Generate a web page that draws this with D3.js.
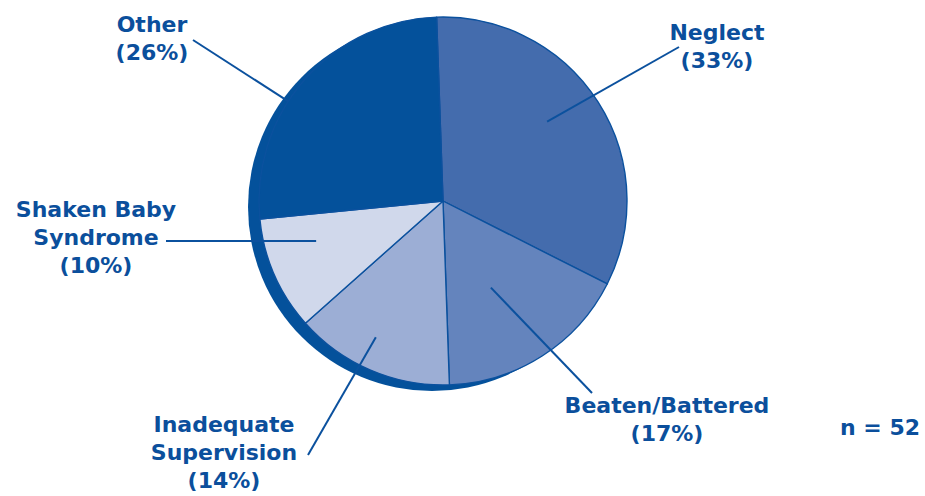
<!DOCTYPE html>
<html>
<head>
<meta charset="utf-8">
<script src="https://cdn.jsdelivr.net/npm/d3@7"></script>
<style>
  html, body { margin: 0; padding: 0; background: #ffffff; }
  svg { display: block; }
  text { font-family: "DejaVu Sans", "Liberation Sans", Arial, sans-serif; font-weight: bold; fill: #0b4f9c; }
</style>
</head>
<body>
<svg id="chart" width="925" height="496"></svg>
<script>
// Causes of child deaths (share of cases), drawn clockwise from the top
const categories = ["Neglect", "Beaten/Battered", "Inadequate Supervision", "Shaken Baby Syndrome", "Other"];
const percents   = [33, 17, 14, 10, 26];
const sliceColors = ["#446cad", "#6484bd", "#9caed5", "#d0d8eb", "#04519b"];
const labelLines = [
  ["Neglect", "(33%)"],
  ["Beaten/Battered", "(17%)"],
  ["Inadequate", "Supervision", "(14%)"],
  ["Shaken Baby", "Syndrome", "(10%)"],
  ["Other", "(26%)"]
];
const sampleNote = "n = 52";

const W = 925, H = 496;
const cx = 443, cy = 201, R = 184;
const edge = "#0b519e";

const svg = d3.select("#chart");
const g = svg.append("g").attr("transform", `translate(${cx},${cy})`);

const startAngle = -2 * Math.PI / 180;
const pie = d3.pie()
  .sort(null)
  .value(d => d)
  .startAngle(startAngle)
  .endAngle(startAngle + 2 * Math.PI);
const arcs = pie(percents);
const arc = d3.arc().innerRadius(0).outerRadius(R);

// dark rim giving the disc a little depth toward the lower left
g.append("circle")
  .attr("cx", -11).attr("cy", 6).attr("r", R)
  .attr("fill", "#04519b");

g.selectAll("path.slice")
  .data(arcs)
  .join("path")
  .attr("class", "slice")
  .attr("d", arc)
  .attr("fill", (d, i) => sliceColors[i])
  .attr("stroke", edge)
  .attr("stroke-width", 1.4)
  .attr("stroke-linejoin", "round");

// label placement: where the leader leaves the slice (fraction along the slice, radius)
// and where it meets the text block
const layout = [
  { t: 0.46, r: 131, ox: 679, oy: 47,  x: 717, y: 40,  anchor: "middle" },
  { t: 0.56, r: 99,  ox: 592, oy: 393, x: 667, y: 413, anchor: "middle" },
  { t: 0.56, r: 152, ox: 308, oy: 455, x: 224, y: 432, anchor: "middle" },
  { t: 0.67, r: 133, ox: 166, oy: 241, x: 96,  y: 217, anchor: "middle" },
  { t: 0.41, r: 184, ox: 193, oy: 40,  x: 152, y: 32,  anchor: "middle" }
];
const lineGap = 28;

arcs.forEach((a, i) => {
  const L = layout[i];
  const ang = a.startAngle + L.t * (a.endAngle - a.startAngle);
  const ix = cx + L.r * Math.sin(ang);
  const iy = cy - L.r * Math.cos(ang);
  svg.append("line")
    .attr("x1", L.ox).attr("y1", L.oy)
    .attr("x2", ix).attr("y2", iy)
    .attr("stroke", edge)
    .attr("stroke-width", 2);

  const t = svg.append("text")
    .attr("text-anchor", L.anchor)
    .attr("font-size", 22);
  labelLines[i].forEach((s, k) => {
    t.append("tspan")
      .attr("x", L.x)
      .attr("y", L.y + k * lineGap)
      .text(s);
  });
});

svg.append("text")
  .attr("x", 880).attr("y", 435)
  .attr("text-anchor", "middle")
  .attr("font-size", 22)
  .text(sampleNote);
</script>
</body>
</html>
